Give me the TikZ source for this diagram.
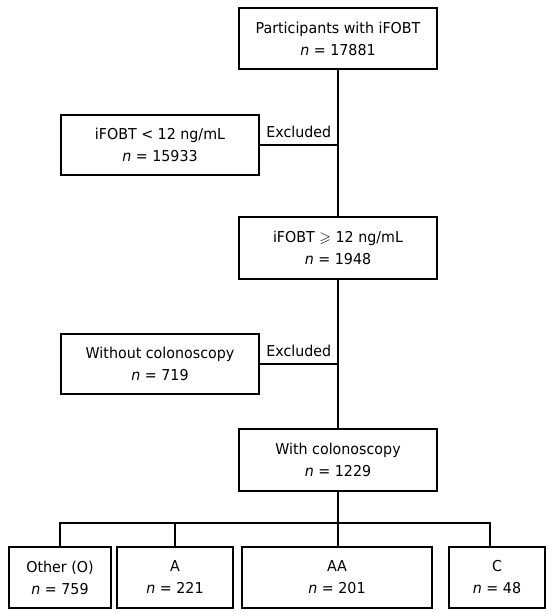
\documentclass[tikz,border=0pt]{standalone}
\usepackage{amssymb}
\usepackage{fontspec}
\setmainfont{DejaVu Sans}[FakeStretch=0.95]
\begin{document}
\begin{tikzpicture}[x=1pt,y=-1pt,
  box/.style={draw,line width=1.2pt,align=center,inner sep=0pt,
    font=\fontsize{15}{22}\selectfont},
  wbox/.style={box,minimum width=198pt,minimum height=61pt},
  link/.style={line width=1.2pt},
  lbl/.style={font=\fontsize{15}{16}\selectfont,inner sep=2pt,above=5pt}]
\useasboundingbox (0,0) rectangle (552,613);
\node[wbox] (b1) at (338,38.5) {Participants with iFOBT\\\textit{n} = 17881};
\node[wbox,minimum height=60pt] (e1) at (160,145) {iFOBT < 12 ng/mL\\\textit{n} = 15933};
\node[wbox,minimum height=62pt] (b2) at (338,248) {iFOBT $\geqslant$ 12 ng/mL\\\textit{n} = 1948};
\node[wbox,minimum height=60pt] (e2) at (160,364) {Without colonoscopy\\\textit{n} = 719};
\node[wbox,minimum height=62pt] (b3) at (338,460) {With colonoscopy\\\textit{n} = 1229};
\node[box,minimum width=102pt,minimum height=61pt] (o) at (60,577.5) {Other (O)\\\textit{n} = 759};
\node[box,minimum width=116pt,minimum height=61pt] (a) at (175,577.5) {A\\\textit{n} = 221};
\node[box,minimum width=190pt,minimum height=61pt] (aa) at (337,577.5) {AA\\\textit{n} = 201};
\node[box,minimum width=96pt,minimum height=61pt] (c) at (497,577.5) {C\\\textit{n} = 48};
\coordinate (bus) at (338,523);
\coordinate (cd) at (490,547);
\draw[link] (b1.south) -- (b2.north);
\draw[link] (b2.south) -- (b3.north);
\draw[link] (b3.south) -- (b3.south |- aa.north);
\draw[link] (e1.east) -- node[lbl] {Excluded} (e1.east -| b1.south);
\draw[link] (e2.east) -- node[lbl] {Excluded} (e2.east -| b1.south);
\draw[link] (o.north) |- (bus) -| (cd);
\draw[link] (a.north) -- (a.north |- bus);
\end{tikzpicture}
\end{document}
